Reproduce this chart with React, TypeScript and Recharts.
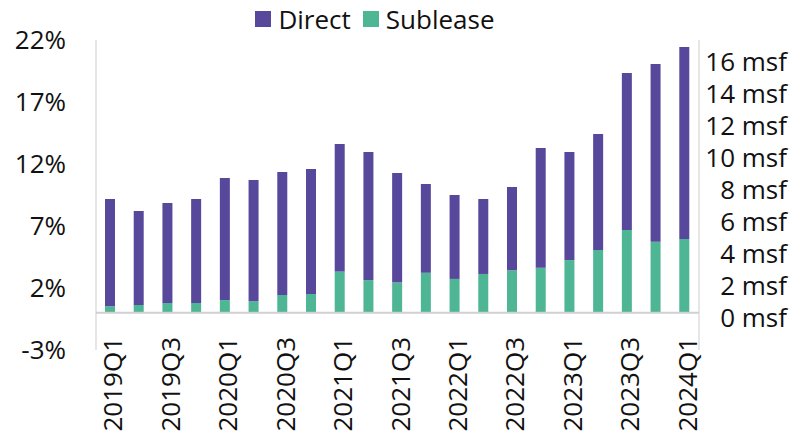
import React from "react";
import { ComposedChart, Bar, XAxis, YAxis, CartesianGrid, ReferenceLine } from "recharts";

const quarters = [
  "2019Q1", "2019Q2", "2019Q3", "2019Q4",
  "2020Q1", "2020Q2", "2020Q3", "2020Q4",
  "2021Q1", "2021Q2", "2021Q3", "2021Q4",
  "2022Q1", "2022Q2", "2022Q3", "2022Q4",
  "2023Q1", "2023Q2", "2023Q3", "2023Q4",
  "2024Q1",
];
const directMsf = [6.71, 5.88, 6.25, 6.5, 7.63, 7.58, 7.68, 7.81, 7.96, 8.0, 6.85, 5.54, 5.25, 4.69, 5.21, 7.48, 6.75, 7.25, 9.81, 11.1, 12.0];
const subleaseMsf = [0.42, 0.5, 0.63, 0.63, 0.81, 0.73, 1.13, 1.19, 2.6, 2.06, 1.9, 2.52, 2.13, 2.44, 2.67, 2.83, 3.31, 3.94, 5.19, 4.46, 4.63];
const pctTicks = [-3, 2, 7, 12, 17, 22];
const msfTicks = [0, 2, 4, 6, 8, 10, 12, 14, 16];
const gridTicks = Array.from({ length: quarters.length + 1 }, (_, i) => i);
const legendItems = [
  { name: "Direct", color: "#57489C" },
  { name: "Sublease", color: "#4EB595" },
];

const DIRECT = legendItems[0].color;
const SUBLEASE = legendItems[1].color;
const FONT = "'Open Sans', sans-serif";
const FS = 26;

const data = quarters.map((q, i) => ({ q, direct: directMsf[i], sublease: subleaseMsf[i] }));

const XTick = (props: any) => {
  const { x, y, payload } = props;
  return (
    <text
      transform={`translate(${x + 12},${y - 13}) rotate(-90)`}
      textAnchor="end"
      fontSize={FS}
      fontFamily={FONT}
      fill="#111"
    >
      {payload.value}
    </text>
  );
};

const RTick = (props: any) => {
  const { x, y, payload } = props;
  return (
    <text x={x + 88} y={y + 5} dy="0.355em" textAnchor="end" fontSize={FS} fontFamily={FONT} fill="#111">
      {`${payload.value} msf`}
    </text>
  );
};

const LegendBox = () => (
  <div
    style={{
      position: "absolute",
      left: 0,
      top: 0,
      width: 789,
      height: 38,
      display: "flex",
      justifyContent: "center",
      alignItems: "center",
      paddingRight: 39,
      boxSizing: "border-box",
      fontFamily: FONT,
      fontSize: FS,
      color: "#111",
      lineHeight: 1,
    }}
  >
    {legendItems.map((it, i) => (
      <div key={it.name} style={{ display: "flex", alignItems: "center", marginLeft: i ? 12 : 0 }}>
        <span style={{ width: 16, height: 16, background: it.color, display: "inline-block", marginRight: 7 }} />
        <span>{it.name}</span>
      </div>
    ))}
  </div>
);

export default function App() {
  return (
    <div style={{ position: "absolute", left: 0, top: 0, width: 789, height: 433, background: "#fff" }}>
      <ComposedChart width={789} height={433} data={data} margin={{ top: 40, right: 0, bottom: 0, left: 0 }} barCategoryGap={0}>
        <XAxis xAxisId="grid" type="number" dataKey="idx" domain={[0, quarters.length]} ticks={gridTicks} hide />
        <CartesianGrid xAxisId="grid" yAxisId="pct" horizontal={false} vertical stroke="#d9d9d9" strokeWidth={1.3} />
        <XAxis
          xAxisId="cat"
          dataKey="q"
          interval={1}
          axisLine={false}
          tickLine={false}
          tickSize={0}
          tickMargin={0}
          height={83}
          tick={<XTick />}
        />
        <YAxis
          yAxisId="pct"
          orientation="left"
          width={96}
          domain={[-3, 22]}
          ticks={pctTicks}
          tickFormatter={(v: number) => `${v}%`}
          axisLine={false}
          tickLine={false}
          tickSize={0}
          tickMargin={30}
          tick={{ fontSize: FS, fontFamily: FONT, fill: "#111" }}
          allowDataOverflow
        />
        <YAxis
          yAxisId="msf"
          orientation="right"
          width={90}
          domain={[-2.3125, 17.0625]}
          ticks={msfTicks}
          axisLine={false}
          tickLine={false}
          tickSize={0}
          tickMargin={0}
          tick={<RTick />}
          allowDataOverflow
        />
        <ReferenceLine yAxisId="pct" xAxisId="cat" y={0} stroke="#d0d0d0" strokeWidth={2} />
        <Bar xAxisId="cat" yAxisId="msf" dataKey="sublease" name="Sublease" stackId="a" fill={SUBLEASE} barSize={10} isAnimationActive={false} />
        <Bar xAxisId="cat" yAxisId="msf" dataKey="direct" name="Direct" stackId="a" fill={DIRECT} barSize={10} isAnimationActive={false} />
      </ComposedChart>
      <LegendBox />
    </div>
  );
}
